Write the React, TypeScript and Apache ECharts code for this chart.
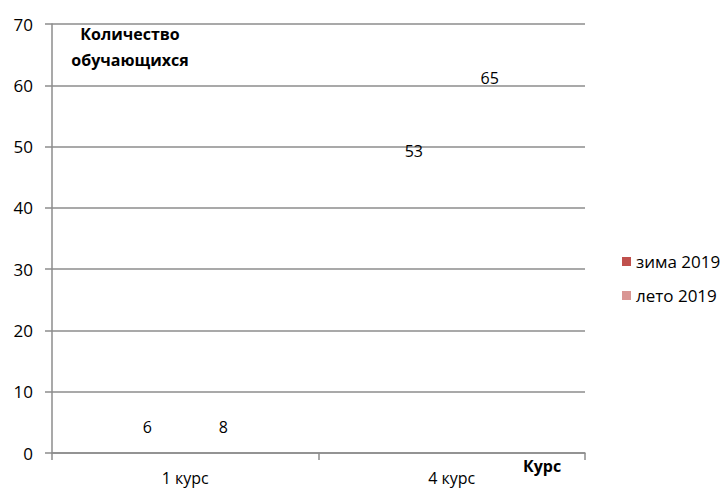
import React, { useEffect, useRef } from "react";
import * as echarts from "echarts";

const categories = ["1 курс", "4 курс"];
const seriesNames = ["зима 2019", "лето 2019"];
const winter = [6, 53];
const summer = [8, 65];
const yTicks = [0, 10, 20, 30, 40, 50, 60, 70];
const colors = ["#C0504D", "#D99694"];

const FONT = "Open Sans";

export default function App() {
  const ref = useRef<HTMLDivElement>(null);
  useEffect(() => {
    if (!ref.current) return;
    const chart = echarts.init(ref.current, undefined, { renderer: "svg" });
    const mkData = (vals: number[], small: boolean[]) =>
      vals.map((v, i) =>
        small[i] ? { value: v, label: { distance: 3 } } : { value: v }
      );
    const labelBase = {
      show: true,
      position: "insideTop",
      distance: 15,
      color: "#000",
      fontFamily: FONT,
      fontSize: 16,
    };
    const boldText = (text: string, x: number, y: number) => ({
      type: "text",
      x,
      y,
      style: {
        text,
        fontFamily: FONT,
        fontSize: 16,
        fontWeight: "bold",
        fill: "#000",
        align: "center",
        verticalAlign: "middle",
      },
    });
    chart.setOption({
      animation: false,
      textStyle: { fontFamily: FONT },
      grid: { left: 52, right: 139, top: 24, bottom: 37, containLabel: false },
      legend: {
        orient: "vertical",
        left: 617,
        top: 248,
        itemWidth: 9,
        itemHeight: 9,
        itemGap: 17,
        icon: "rect",
        textStyle: { fontFamily: FONT, fontSize: 17, color: "#000" },
        data: seriesNames.map((n, i) => ({ name: n, itemStyle: { color: colors[i], opacity: 1 } })),
      },
      xAxis: {
        type: "category",
        data: categories,
        boundaryGap: true,
        axisLine: { show: true, lineStyle: { color: "#8C8C8C", width: 1.5 } },
        axisTick: { show: true, length: 7, lineStyle: { color: "#8C8C8C", width: 1.5 } },
        axisLabel: { color: "#000", fontFamily: FONT, fontSize: 16, margin: 17 },
      },
      yAxis: {
        type: "value",
        min: yTicks[0],
        max: yTicks[yTicks.length - 1],
        interval: 10,
        axisLine: { show: true, lineStyle: { color: "#8C8C8C", width: 1.5 } },
        axisTick: { show: true, length: 7, lineStyle: { color: "#8C8C8C", width: 1.5 } },
        splitLine: { show: true, lineStyle: { color: "#8C8C8C", width: 1.5 } },
        axisLabel: { color: "#000", fontFamily: FONT, fontSize: 17, margin: 19 },
      },
      series: [
        {
          name: seriesNames[0],
          type: "bar",
          data: mkData(winter, [true, false]),
          barGap: "0%",
          barCategoryGap: "43%",
          itemStyle: { color: "rgba(0,0,0,0)" },
          label: labelBase,
        },
        {
          name: seriesNames[1],
          type: "bar",
          data: mkData(summer, [false, false]),
          barGap: "0%",
          barCategoryGap: "43%",
          itemStyle: { color: "rgba(0,0,0,0)" },
          label: labelBase,
        },
      ],
      graphic: [
        boldText("Количество", 130, 34),
        boldText("обучающихся", 130, 60),
        boldText("Курс", 542, 466),
      ],
    });
    return () => chart.dispose();
  }, []);
  return <div ref={ref} style={{ width: 724, height: 490, position: "absolute", left: 0, top: 0 }} />;
}
